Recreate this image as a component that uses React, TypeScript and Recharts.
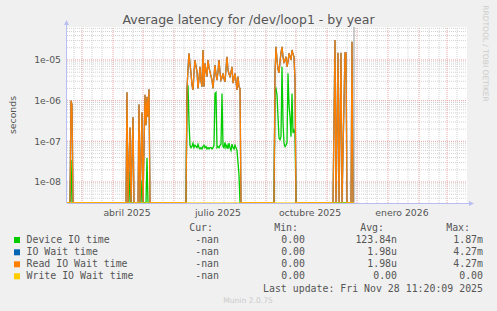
import React from "react";
import { LineChart, Line, XAxis, YAxis, ReferenceLine } from "recharts";

// x is a day index: day 0 = 14 Feb 2025, one day per pixel
const monthStarts = [-13, 15, 46, 76, 107, 137, 168, 199, 229, 260, 290, 321, 352, 380];
const tickDays = [60, 151, 243, 335];
const tickLabels = ["abril 2025", "julio 2025", "octubre 2025", "enero 2026"];
const yTicks = [1e-8, 1e-7, 1e-6, 1e-5];
const yTickLabels = ["1e-08", "1e-07", "1e-06", "1e-05"];
const nowDay = 287;

// [day, seconds]
const deviceIO: [number, number][] = [
  [0, 0], [3, 0], [4, 3.5e-8], [5, 0],
  [62, 0], [63, 1.8e-8], [64, 0], [74, 0], [75, 1.1e-8], [76, 0], [79, 0], [80, 3.9e-8], [81, 0],
  [119, 0], [120, 1.8e-6], [121, 2.4e-6], [122, 3e-7], [123, 8e-8], [124, 7e-8], [125, 7.5e-8],
  [126, 9e-8], [127, 7e-8], [128, 8e-8], [129, 7.5e-8], [130, 7e-8], [131, 8.5e-8], [132, 7e-8],
  [133, 6.5e-8], [134, 7e-8], [135, 6.5e-8], [136, 7.5e-8], [137, 8e-8], [138, 7e-8], [139, 7.5e-8],
  [140, 6.5e-8], [141, 7e-8], [142, 6.5e-8], [143, 7e-8], [144, 7e-8], [145, 6.5e-8], [146, 7e-8],
  [147, 8e-8], [148, 1.5e-6], [149, 1.6e-6], [150, 7e-8], [151, 7.5e-8], [152, 7e-8], [153, 8e-8],
  [154, 8.5e-8], [155, 1.5e-6], [156, 7.5e-8], [157, 7e-8], [158, 9.5e-8], [159, 7e-8], [160, 8e-8],
  [161, 6.5e-8], [162, 9e-8], [163, 7e-8], [164, 6e-8], [165, 8.5e-8], [166, 7e-8], [167, 6.5e-8],
  [168, 8e-8], [169, 7e-8], [170, 6e-8], [171, 3e-8], [172, 1.5e-8], [173, 0],
  [207, 0], [208, 1.8e-6], [209, 2.0e-6], [210, 1.4e-6], [211, 4e-7], [212, 1.2e-7], [213, 1.1e-7],
  [214, 1.3e-7], [215, 6.8e-6], [216, 3e-7], [217, 9e-8], [218, 7.4e-8], [219, 8e-8], [220, 9.2e-8],
  [221, 4.7e-6], [222, 8e-7], [223, 4e-7], [224, 1.3e-7], [225, 1.5e-6], [226, 1.6e-7], [227, 1.9e-7],
  [228, 1.6e-7], [229, 0],
  [287, 0],
];

const readWait: [number, number][] = [
  [0, 0], [3, 0], [4, 1e-6], [5, 8e-7], [6, 0],
  [59, 0], [60, 1.6e-6], [61, 0], [63, 2.2e-7], [64, 0], [66, 3.9e-7], [67, 0], [71, 0], [72, 8e-7],
  [73, 0], [75, 5.1e-7], [76, 0], [78, 1.4e-6], [79, 2.5e-7], [80, 1.25e-6], [81, 4e-7], [82, 1.9e-6], [83, 0],
  [119, 0], [120, 2.0e-6], [121, 6e-6], [122, 1.46e-5], [123, 8e-6], [124, 4.7e-6], [125, 2.4e-6],
  [126, 1.83e-6], [127, 5e-6], [128, 1e-5], [129, 7e-6], [130, 5.2e-6], [131, 2.0e-6], [132, 3.5e-6],
  [133, 6.8e-6], [134, 3e-6], [135, 2.2e-6], [136, 1.76e-5], [137, 2.2e-6], [138, 8.3e-6], [139, 5.5e-6],
  [140, 3.9e-6], [141, 1e-5], [142, 6.5e-6], [143, 5.2e-6], [144, 4e-6], [145, 3.2e-6], [146, 2.0e-6],
  [147, 4e-6], [148, 7.5e-6], [149, 4.5e-6], [150, 3.2e-6], [151, 5.2e-6], [152, 1e-5], [153, 5e-6],
  [154, 3.2e-6], [155, 3.6e-6], [156, 4.7e-6], [157, 3.5e-6], [158, 2.9e-6], [159, 6e-6], [160, 1.2e-5],
  [161, 5.7e-6], [162, 4.5e-6], [163, 3.9e-6], [164, 5e-6], [165, 6.8e-6], [166, 2.7e-6], [167, 3.5e-6],
  [168, 4.7e-6], [169, 3e-6], [170, 1.83e-6], [171, 3.9e-6], [172, 2.2e-6], [173, 2.0e-6], [174, 0],
  [207, 0], [208, 4.8e-6], [209, 2.1e-5], [210, 1e-5], [211, 6e-6], [212, 4.8e-6], [213, 9e-6],
  [214, 1.5e-5], [215, 2.1e-5], [216, 1.2e-5], [217, 8.4e-6], [218, 1e-5], [219, 1.2e-5], [220, 6.8e-6],
  [221, 9e-6], [222, 1.46e-5], [223, 1.2e-5], [224, 1e-5], [225, 1.76e-5], [226, 1.4e-5], [227, 1.2e-5],
  [228, 3.2e-6], [229, 0],
  [266, 0], [268, 3.1e-5], [269, 0], [271, 1.5e-5], [272, 0], [274, 1.5e-5], [275, 0], [278, 1.5e-5],
  [279, 1.5e-5], [280, 0], [284, 0], [285, 2.8e-5], [286, 0], [287, 0],
];

// same numbers as read wait (avg 1.98u, max 4.27m for both)
const ioWait = readWait;
const writeWait: [number, number][] = [[0, 0], [287, 0]];

const legendNames = ["Device IO time", "IO Wait time", "Read IO Wait time", "Write IO Wait time"];
const legendColors = ["#00cc00", "#0066b3", "#ff8000", "#ffcc00"];
const curValues = ["-nan", "-nan", "-nan", "-nan"];
const minValues = ["0.00", "0.00", "0.00", "0.00"];
const avgValues = ["123.84n", "1.98u", "1.98u", "0.00"];
const maxValues = ["1.87m", "4.27m", "4.27m", "0.00"];

const Y_MIN = 3.05e-9;
const Y_MAX = 6.47e-5;
const FLOOR = 3.1e-9; // zero can't sit on a log axis

const W = 497;
const H = 311;
const PL = 67;
const PT = 27;
const PW = 400;
const PH = 176;

const FONT = "'DejaVu Sans', sans-serif";
const MONO = "'DejaVu Sans Mono', monospace";
const TEXT = "#555555";

const toPoints = (pairs: [number, number][]) =>
  pairs.map(([day, v]) => ({ day, v: v > 0 ? v : FLOOR }));

const minorDays = monthStarts
  .flatMap((d) => [d + 10, d + 20])
  .filter((d) => d > 0 && d < PW);

const minorY: number[] = [];
[-9, -8, -7, -6, -5].forEach((e) => {
  for (let k = 2; k <= 9; k++) {
    const v = k * Math.pow(10, e);
    if (v > Y_MIN && v < Y_MAX) minorY.push(v);
  }
});

const RED = "#e6a3a3";
const GREY = "#d2d2d2";
const AXIS = "#b8bef2";

export default function App() {
  const rowBase = [243, 255.3, 267.3, 279.3];
  return (
    <div style={{ position: "relative", width: W, height: H, background: "#f0f0f0", overflow: "hidden" }}>
      <style>{"body{margin:0}"}</style>
      <svg width={W} height={H} style={{ position: "absolute", left: 0, top: 0 }}>
        <rect x={PL} y={PT} width={PW} height={PH} fill="#ffffff" />
        <line x1={PL - 0.5} y1={PT + PH} x2={PL - 0.5} y2={24} stroke={AXIS} />
        <polygon points={`${PL - 3},25 ${PL + 2},25 ${PL - 0.5},20`} fill={AXIS} />
        <line x1={PL} y1={PT + PH + 0.5} x2={469} y2={PT + PH + 0.5} stroke={AXIS} />
        <polygon points={`469,${PT + PH - 2} 469,${PT + PH + 3} 474,${PT + PH + 0.5}`} fill={AXIS} />
      </svg>
      <div style={{ position: "absolute", left: 0, top: 0 }}>
        <LineChart width={W} height={H} margin={{ top: PT, right: W - PL - PW, bottom: 88, left: 7 }}>
          <XAxis
            type="number"
            dataKey="day"
            domain={[0, PW]}
            allowDataOverflow
            ticks={tickDays}
            tickFormatter={(d: number) => tickLabels[tickDays.indexOf(d)] ?? ""}
            axisLine={false}
            tickLine={false}
            tickSize={0}
            tickMargin={6}
            height={20}
            interval={0}
            tick={{ fontSize: 9.3, fill: TEXT, fontFamily: FONT }}
          />
          <YAxis
            type="number"
            scale="log"
            domain={[Y_MIN, Y_MAX]}
            allowDataOverflow
            ticks={yTicks}
            tickFormatter={(v: number) => yTickLabels[yTicks.indexOf(v)] ?? ""}
            axisLine={false}
            tickLine={false}
            tickSize={0}
            tickMargin={6}
            width={60}
            interval={0}
            tick={{ fontSize: 9.3, fill: TEXT, fontFamily: FONT }}
          />
          {minorY.map((v) => (
            <ReferenceLine key={"my" + v} y={v} stroke={GREY} strokeDasharray="1 1" />
          ))}
          {minorDays.map((d) => (
            <ReferenceLine key={"mx" + d} x={d} stroke={GREY} strokeDasharray="1 1" />
          ))}
          {yTicks.map((v) => (
            <ReferenceLine key={"y" + v} y={v} stroke={RED} strokeDasharray="1 1" />
          ))}
          {monthStarts.filter((d) => d > 0 && d < PW).map((d) => (
            <ReferenceLine key={"x" + d} x={d} stroke={RED} strokeDasharray="1 1" />
          ))}
          <ReferenceLine x={nowDay} stroke="#9a9a9a" />
          <Line data={toPoints(deviceIO)} dataKey="v" stroke={legendColors[0]} strokeWidth={1.3} dot={false} isAnimationActive={false} />
          <Line data={toPoints(ioWait)} dataKey="v" stroke={legendColors[1]} strokeWidth={1.3} dot={false} isAnimationActive={false} />
          <Line data={toPoints(readWait)} dataKey="v" stroke={legendColors[2]} strokeWidth={1.3} dot={false} isAnimationActive={false} />
          <Line data={toPoints(writeWait)} dataKey="v" stroke={legendColors[3]} strokeOpacity={0.6} strokeWidth={1.3} dot={false} isAnimationActive={false} />
        </LineChart>
      </div>
      <svg width={W} height={H} style={{ position: "absolute", left: 0, top: 0, pointerEvents: "none" }}>
        <text x={248.5} y={24} textAnchor="middle" fontFamily={FONT} fontSize={12.5} fill={TEXT}>
          Average latency for /dev/loop1 - by year
        </text>
        <text x={15.5} y={115} textAnchor="middle" fontFamily={FONT} fontSize={9.3} fill={TEXT} transform="rotate(-90 15.5 115)">
          seconds
        </text>
        <text x={483} y={53.5} textAnchor="middle" fontFamily={FONT} fontSize={7.5} fill="#cccccc" transform="rotate(90 483 53.5)">
          RRDTOOL / TOBI OETIKER
        </text>
        <g fontFamily={MONO} fontSize={9.9} fill={TEXT}>
          <text x={213} y={231} textAnchor="end">Cur:</text>
          <text x={298} y={231} textAnchor="end">Min:</text>
          <text x={384} y={231} textAnchor="end">Avg:</text>
          <text x={470} y={231} textAnchor="end">Max:</text>
          {legendNames.map((name, i) => (
            <g key={name}>
              <rect x={14} y={rowBase[i] - 6} width={6} height={6} fill={legendColors[i]} />
              <text x={26.5} y={rowBase[i]}>{name}</text>
              <text x={219} y={rowBase[i]} textAnchor="end">{curValues[i]}</text>
              <text x={305} y={rowBase[i]} textAnchor="end">{minValues[i]}</text>
              <text x={397} y={rowBase[i]} textAnchor="end">{avgValues[i]}</text>
              <text x={483} y={rowBase[i]} textAnchor="end">{maxValues[i]}</text>
            </g>
          ))}
          <text x={483} y={291.5} textAnchor="end">Last update: Fri Nov 28 11:20:09 2025</text>
        </g>
        <text x={248} y={303} textAnchor="middle" fontFamily={FONT} fontSize={7.6} fill="#cccccc">
          Munin 2.0.75
        </text>
      </svg>
    </div>
  );
}
